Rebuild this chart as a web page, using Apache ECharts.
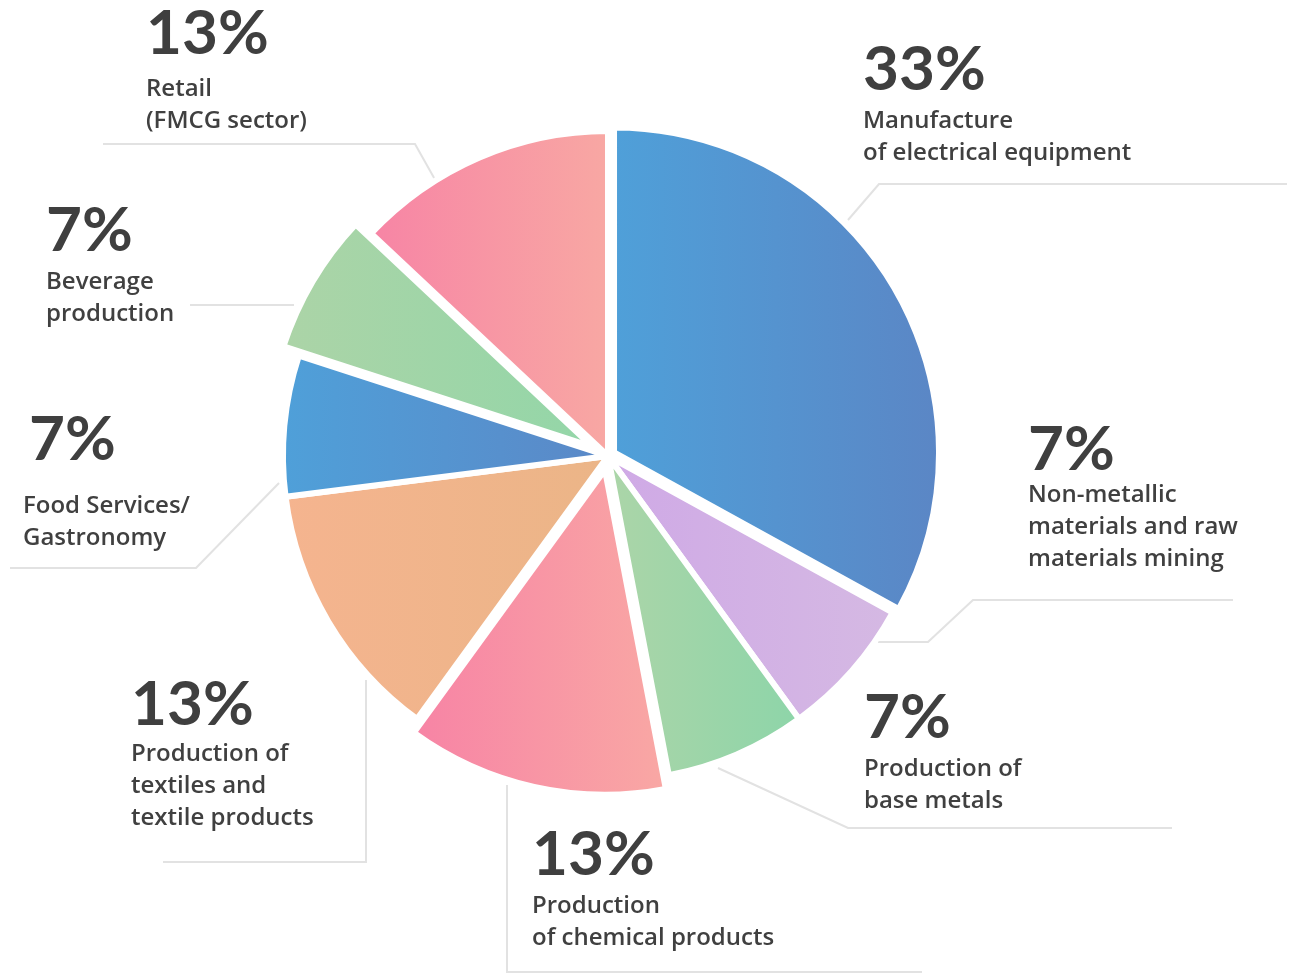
<!DOCTYPE html>
<html>
<head>
<meta charset="utf-8">
<script src="https://cdn.jsdelivr.net/npm/echarts@6/dist/echarts.min.js"></script>
<style>
  html, body { margin: 0; padding: 0; background: #ffffff; }
  #chart { width: 1294px; height: 974px; }
</style>
</head>
<body>
<div id="chart"></div>
<script>
// Industry shares, clockwise from 12 o'clock
const sectors = [
  'Manufacture\nof electrical equipment',
  'Non-metallic\nmaterials and raw\nmaterials mining',
  'Production of\nbase metals',
  'Production\nof chemical products',
  'Production of\ntextiles and\ntextile products',
  'Food Services/\nGastronomy',
  'Beverage\nproduction',
  'Retail\n(FMCG sector)'
];
const shares = [33, 7, 7, 13, 13, 7, 7, 13];

// Horizontal gradient stops (left, right) for each slice
const gradients = [
  ['#4fa0d9', '#5b86c5'],
  ['#cfa9e6', '#d5b9e3'],
  ['#acd5a8', '#8dd5a9'],
  ['#f783a5', '#f9a8a4'],
  ['#f5b48f', '#ebb587'],
  ['#4fa0d9', '#5b88c7'],
  ['#acd4a7', '#93d6a8'],
  ['#f784a5', '#f8a8a3']
];

// Outward offset of exploded slices (px)
const explode = [7, 0, 0, 14, 0, 0, 18, 0];

// Label block placement: [left, top, number line height, number indent]
const labelBoxes = [
  [863, 35, 70, 0],
  [1028, 420, 59, 0],
  [864, 682, 71, 0],
  [532, 819, 71, 0],
  [131, 671, 67, 0],
  [23, 390, 100, 6],
  [46, 195, 71, 0],
  [146, -5, 78, 0]
];

// Leader line polylines
const leaders = [
  [[848, 220], [879, 184], [1287, 184]],
  [[878, 642], [928, 642], [973, 600], [1233, 600]],
  [[718, 768], [848, 828], [1172, 828]],
  [[507, 785], [507, 972], [922, 972]],
  [[366, 680], [366, 862], [163, 862]],
  [[279, 483], [196, 568], [10, 568]],
  [[294, 305], [190, 305]],
  [[460, 224], [415, 144], [103, 144]]
];

const CENTER = [608, 456];
const RADIUS = 325;
const NUM_FONT = 'Lato';
const TEXT_FONT = 'Open Sans';

function grad(i) {
  return new echarts.graphic.LinearGradient(0, 0, 1, 0, [
    { offset: 0, color: gradients[i][0] },
    { offset: 1, color: gradients[i][1] }
  ]);
}

const hiddenStyle = { color: 'rgba(0,0,0,0)', borderWidth: 0 };

const rich = {
  t: { fontFamily: TEXT_FONT, fontSize: 24, fontWeight: 600, color: '#404040', lineHeight: 32 }
};
labelBoxes.forEach((b, i) => {
  rich['p' + i] = {
    fontFamily: NUM_FONT, fontSize: 62, fontWeight: 700, color: '#3f3f3f',
    lineHeight: b[2], padding: [0, 0, 0, b[3]]
  };
});

// Base series: un-exploded slices plus every label and leader line
const baseSeries = {
  type: 'pie',
  center: CENTER,
  radius: RADIUS,
  startAngle: 90,
  clockwise: true,
  animation: false,
  avoidLabelOverlap: false,
  emphasis: { disabled: true },
  itemStyle: { borderColor: '#ffffff', borderWidth: 6 },
  label: {
    show: true,
    position: 'outside',
    rich: rich,
    formatter: (p) => {
      const lines = p.name.split('\n').map((s) => '{t|' + s + '}').join('\n');
      return '{p' + p.dataIndex + '|' + p.value + '%}\n' + lines;
    }
  },
  labelLine: {
    show: true,
    smooth: false,
    lineStyle: { color: '#e2e2e2', width: 2 }
  },
  labelLayout: (params) => {
    const b = labelBoxes[params.dataIndex];
    return {
      x: b[0],
      y: b[1],
      align: 'left',
      verticalAlign: 'top',
      labelLinePoints: leaders[params.dataIndex]
    };
  },
  data: shares.map((v, i) => ({
    name: sectors[i],
    value: v,
    itemStyle: explode[i] ? hiddenStyle : { color: grad(i) }
  }))
};

// One series per exploded slice, sharing the same angles
const explodedSeries = [];
explode.forEach((off, k) => {
  if (!off) return;
  explodedSeries.push({
    type: 'pie',
    center: CENTER,
    radius: RADIUS,
    startAngle: 90,
    clockwise: true,
    animation: false,
    silent: true,
    selectedMode: 'multiple',
    selectedOffset: off,
    emphasis: { disabled: true },
    itemStyle: { borderColor: '#ffffff', borderWidth: 6 },
    label: { show: false },
    labelLine: { show: false },
    data: shares.map((v, i) => ({
      name: sectors[i],
      value: v,
      selected: i === k,
      itemStyle: i === k ? { color: grad(i) } : hiddenStyle
    }))
  });
});

const chart = echarts.init(document.getElementById('chart'), null, { renderer: 'canvas' });
chart.setOption({
  backgroundColor: '#ffffff',
  series: [baseSeries].concat(explodedSeries)
});
</script>
</body>
</html>
